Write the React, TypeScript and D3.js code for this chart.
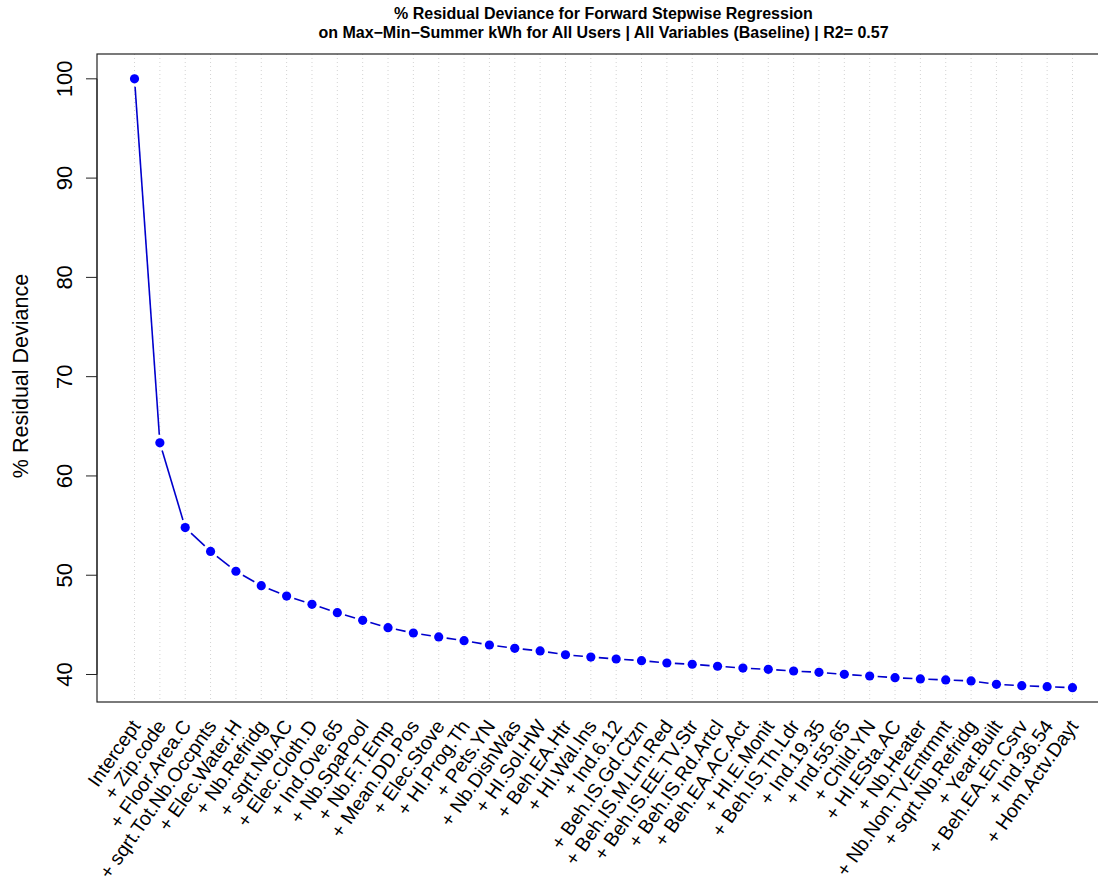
import React, { useEffect, useRef } from 'react';
import * as d3 from 'd3';

const steps = [
    "Intercept", "+ Zip.code", "+ Floor.Area.C", "+ sqrt.Tot.Nb.Occpnts", "+ Elec.Water.H",
    "+ Nb.Refridg", "+ sqrt.Nb.AC", "+ Elec.Cloth.D", "+ Ind.Ove.65", "+ Nb.SpaPool",
    "+ Nb.F.T.Emp", "+ Mean.DD.Pos", "+ Elec.Stove", "+ HI.Prog.Th", "+ Pets.YN",
    "+ Nb.DishWas", "+ HI.Sol.HW", "+ Beh.EA.Htr", "+ HI.Wal.Ins", "+ Ind.6.12",
    "+ Beh.IS.Gd.Ctzn", "+ Beh.IS.M.Lrn.Red", "+ Beh.IS.EE.TV.Str", "+ Beh.IS.Rd.Artcl", "+ Beh.EA.AC.Act",
    "+ HI.E.Monit", "+ Beh.IS.Th.Ldr", "+ Ind.19.35", "+ Ind.55.65", "+ Child.YN",
    "+ HI.ESta.AC", "+ Nb.Heater", "+ Nb.Non.TV.Entrmnt", "+ sqrt.Nb.Refridg", "+ Year.Built",
    "+ Beh.EA.En.Csrv", "+ Ind.36.54", "+ Hom.Actv.Dayt"
];

const residualDeviance = [
    100, 63.34, 54.8, 52.4, 50.4, 48.95, 47.9, 47.07, 46.23, 45.46,
    44.72, 44.18, 43.78, 43.41, 42.97, 42.64, 42.37, 41.99, 41.76, 41.56,
    41.39, 41.16, 41.03, 40.83, 40.65, 40.52, 40.35, 40.22, 40.02, 39.85,
    39.68, 39.55, 39.45, 39.35, 39.01, 38.87, 38.77, 38.67
];

const yTicks = [40, 50, 60, 70, 80, 90, 100];

const titleLines = [
    "% Residual Deviance for Forward Stepwise Regression",
    "on Max\u2212Min\u2212Summer kWh for All Users | All Variables (Baseline) | R2= 0.57"
];

const width = 1098;
const height = 882;
const font = "'Liberation Sans', Arial, Helvetica, sans-serif";

const App = () => {
    const wrapper = useRef(null);

    useEffect(() => {
        const margin = { top: 54, bottom: 180, left: 97, right: -12 };

        d3.select(wrapper.current).selectAll("svg").remove();

        const svg = d3.select(wrapper.current)
            .append("svg")
            .attr("width", width)
            .attr("height", height)
            .style("display", "block")
            .style("background", "#fff");

        const x = d3.scaleLinear()
            .domain([1 - 0.04 * 37, 38 + 0.04 * 37])
            .range([margin.left, width - margin.right]);

        const y = d3.scaleLinear()
            .domain([37.23, 102.5])
            .range([height - margin.bottom, margin.top]);

        const data = residualDeviance.map((v, i) => ({ i: i + 1, v, label: steps[i] }));

        // dotted vertical guides
        svg.append("g")
            .selectAll("line")
            .data(data)
            .join("line")
                .attr("x1", d => x(d.i))
                .attr("x2", d => x(d.i))
                .attr("y1", y(102.5))
                .attr("y2", y(37.23))
                .attr("stroke", "#d3d3d3")
                .attr("stroke-width", 1)
                .attr("stroke-dasharray", "1,3");

        // type = "b": segments with a gap round each point
        const gap = 8;
        const segs = d3.pairs(data).map(([a, b]) => {
            const x0 = x(a.i), y0 = y(a.v), x1 = x(b.i), y1 = y(b.v);
            const len = Math.hypot(x1 - x0, y1 - y0);
            const ux = (x1 - x0) / len, uy = (y1 - y0) / len;
            return { x0: x0 + ux * gap, y0: y0 + uy * gap, x1: x1 - ux * gap, y1: y1 - uy * gap };
        });

        svg.append("g")
            .selectAll("line")
            .data(segs)
            .join("line")
                .attr("x1", d => d.x0)
                .attr("y1", d => d.y0)
                .attr("x2", d => d.x1)
                .attr("y2", d => d.y1)
                .attr("stroke", "#0000cd")
                .attr("stroke-width", 1.6);

        svg.append("g")
            .selectAll("circle")
            .data(data)
            .join("circle")
                .attr("cx", d => x(d.i))
                .attr("cy", d => y(d.v))
                .attr("r", 4.6)
                .attr("fill", "#0000ff");

        // box
        svg.append("rect")
            .attr("x", margin.left)
            .attr("y", margin.top)
            .attr("width", x.range()[1] - margin.left)
            .attr("height", y.range()[0] - margin.top)
            .attr("fill", "none")
            .attr("stroke", "#222")
            .attr("stroke-width", 1.2);

        // y axis
        const yAxis = svg.append("g").attr("transform", `translate(${margin.left},0)`);
        yAxis.append("line")
            .attr("x1", 0).attr("x2", 0)
            .attr("y1", y(40)).attr("y2", y(100))
            .attr("stroke", "#222");
        yAxis.selectAll(".tick")
            .data(yTicks)
            .join("line")
                .attr("class", "tick")
                .attr("x1", -11).attr("x2", 0)
                .attr("y1", d => y(d)).attr("y2", d => y(d))
                .attr("stroke", "#222");
        yAxis.selectAll(".tick-label")
            .data(yTicks)
            .join("text")
                .attr("class", "tick-label")
                .attr("transform", d => `translate(-33,${y(d)}) rotate(-90)`)
                .attr("text-anchor", "middle")
                .attr("dominant-baseline", "central")
                .style("font-family", font)
                .style("font-size", "22px")
                .text(d => d);

        svg.append("text")
            .attr("transform", `translate(21,${(y.range()[0] + margin.top) / 2 - 2}) rotate(-90)`)
            .attr("text-anchor", "middle")
            .attr("dominant-baseline", "central")
            .style("font-family", font)
            .style("font-size", "21.5px")
            .text("% Residual Deviance");

        // rotated x labels
        svg.append("g")
            .selectAll("text")
            .data(data)
            .join("text")
                .attr("transform", d => `translate(${x(d.i) + 1},${y.range()[0] + 20}) rotate(-55)`)
                .attr("text-anchor", "end")
                .attr("dominant-baseline", "central")
                .style("font-family", font)
                .style("font-size", "19.5px")
                .text(d => d.label);

        // title
        svg.append("g")
            .selectAll("text")
            .data(titleLines)
            .join("text")
                .attr("x", (margin.left + x.range()[1]) / 2)
                .attr("y", (d, i) => 13 + i * 19)
                .attr("text-anchor", "middle")
                .attr("dominant-baseline", "central")
                .style("font-family", font)
                .style("font-size", "16px")
                .style("font-weight", "bold")
                .text(d => d);
    }, []);

    return (
        <div style={{ position: "absolute", left: 0, top: 0, width, height, overflow: "hidden" }}>
            <div ref={wrapper} />
        </div>
    );
};

export { App as default };
